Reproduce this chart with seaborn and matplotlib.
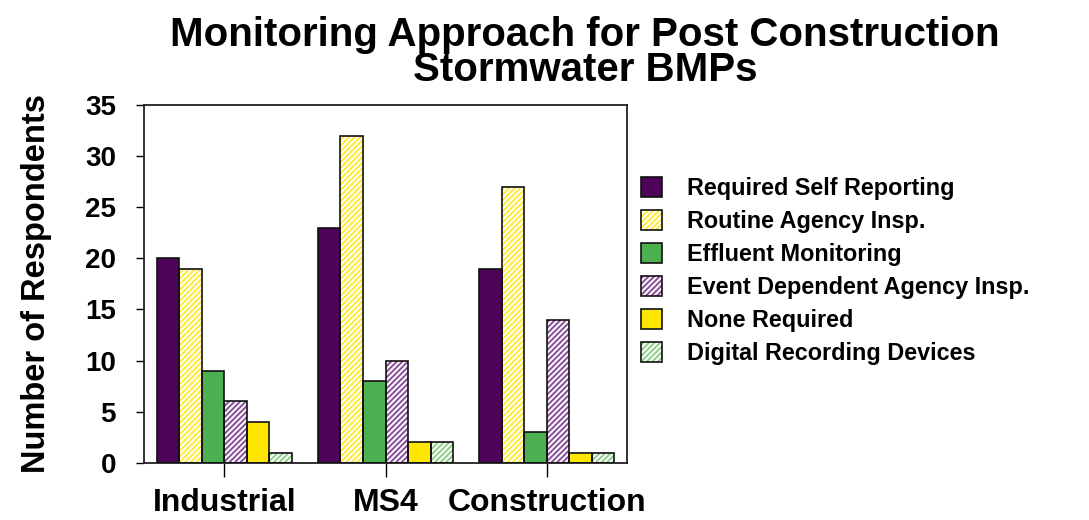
import matplotlib
matplotlib.use("Agg")
import matplotlib.pyplot as plt
import pandas as pd
import seaborn as sns
from matplotlib.patches import Rectangle, Patch
from matplotlib.legend_handler import HandlerTuple

categories = ["Industrial", "MS4", "Construction"]
approaches = [
    "Required Self Reporting",
    "Routine Agency Insp.",
    "Effluent Monitoring",
    "Event Dependent Agency Insp.",
    "None Required",
    "Digital Recording Devices",
]
self_reporting = [20, 23, 19]
routine_insp = [19, 32, 27]
effluent = [9, 8, 3]
event_insp = [6, 10, 14]
none_required = [4, 2, 1]
digital_devices = [1, 2, 1]

colors = ["#4d0358", "#ffea3a", "#4caf50", "#8a4f9a", "#ffe600", "#8fce8a"]
hatched = [False, True, False, True, False, True]

series = [self_reporting, routine_insp, effluent, event_insp, none_required, digital_devices]
rows = []
for name, vals in zip(approaches, series):
    for cat, v in zip(categories, vals):
        rows.append({"Category": cat, "Approach": name, "Count": v})
df = pd.DataFrame(rows)

sns.set_style("white")
plt.rcParams["font.family"] = ["Liberation Sans", "DejaVu Sans"]
plt.rcParams["font.weight"] = "bold"
plt.rcParams["text.color"] = "black"
plt.rcParams["axes.labelcolor"] = "black"
plt.rcParams["xtick.color"] = "black"
plt.rcParams["ytick.color"] = "black"
plt.rcParams["hatch.linewidth"] = 1.4

fig = plt.figure(figsize=(10.89, 5.2), dpi=100)
ax = fig.add_axes([0.132, 0.110, 0.444, 0.688])

sns.barplot(
    data=df, x="Category", y="Count", hue="Approach",
    order=categories, hue_order=approaches,
    palette=colors, width=0.84, ax=ax, legend=False,
    linewidth=0, saturation=1,
)

# white stripes on hatched bars, then a black outline round every bar
for i, cont in enumerate(ax.containers):
    for bar in cont:
        if hatched[i]:
            bar.set_hatch("//////")
            bar.set_edgecolor("white")
            bar.set_linewidth(0)
        x, y = bar.get_xy()
        ax.add_patch(Rectangle((x, y), bar.get_width(), bar.get_height(),
                               fill=False, edgecolor="#111111", linewidth=1.2, zorder=3))

ax.set_xlim(-0.5, 2.5)
ax.set_ylim(0, 35)
ax.set_yticks(range(0, 36, 5))
ax.set_xlabel("")
ax.set_ylabel("Number of Respondents", fontsize=23.5, fontweight="bold", labelpad=24)
ax.tick_params(axis="y", labelsize=20, length=6, direction="out", left=True, width=1, pad=14)
ax.tick_params(axis="x", labelsize=23, length=10, direction="out", bottom=True, width=1, pad=8)
for lbl in ax.get_xticklabels() + ax.get_yticklabels():
    lbl.set_fontweight("bold")
for s in ax.spines.values():
    s.set_color("#222222")
    s.set_linewidth(1.3)

fig.text(0.537, 0.97, "Monitoring Approach for Post Construction\nStormwater BMPs",
         ha="center", va="top", fontsize=29, fontweight="bold", linespacing=0.92)

handles = []
for c, h in zip(colors, hatched):
    if h:
        fillp = Patch(facecolor=c, edgecolor="white", linewidth=0, hatch="//////")
    else:
        fillp = Patch(facecolor=c, linewidth=0)
    handles.append((fillp, Patch(fill=False, edgecolor="#111111", linewidth=1.2)))
leg = fig.legend(handles, approaches, loc="upper left", bbox_to_anchor=(0.569, 0.700),
                 frameon=False, handlelength=0.9, handleheight=0.9,
                 labelspacing=0.43, handletextpad=1.1,
                 handler_map={tuple: HandlerTuple(ndivide=1)},
                 prop={"weight": "bold", "size": 16.8})

fig.savefig("out.png", dpi=100)
